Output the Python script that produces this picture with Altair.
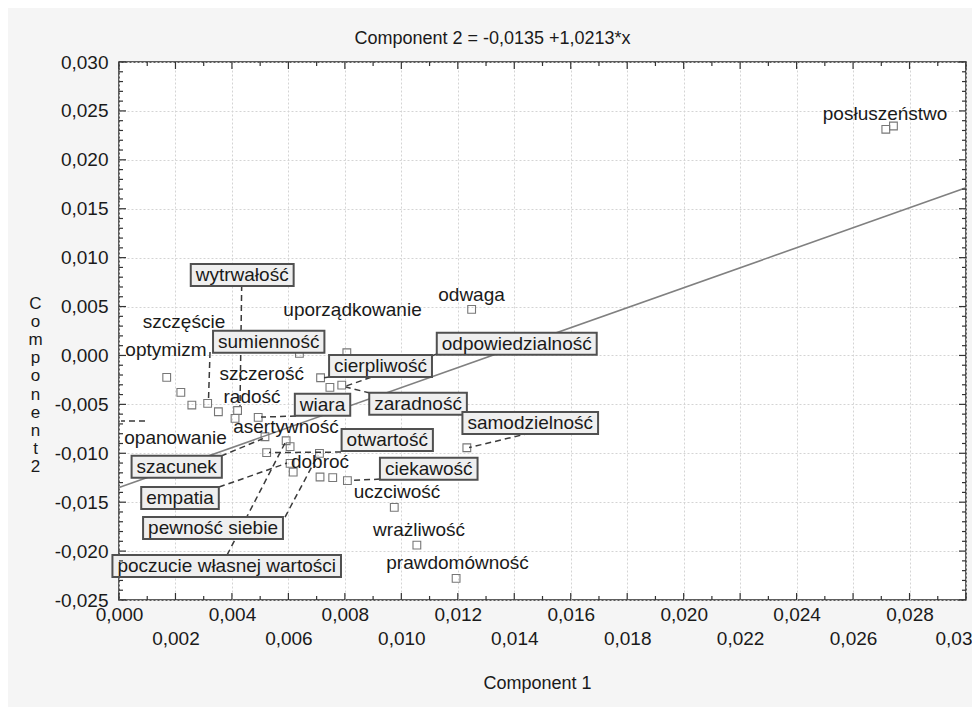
import altair as alt
import pandas as pd

# ---------------- data ----------------
pt_x = [0.02743, 0.02716, 0.01249, 0.00807, 0.00639, 0.00714, 0.00747, 0.00789,
        0.00169, 0.00219, 0.00258, 0.00314, 0.00352, 0.00420, 0.00411, 0.00493,
        0.00517, 0.00592, 0.00606, 0.00523, 0.00710, 0.00606, 0.00617, 0.00712,
        0.00757, 0.00809, 0.01232, 0.00975, 0.01055, 0.01194]
pt_y = [0.02346, 0.02312, 0.00471, 0.00028, 0.00022, -0.00228, -0.00326, -0.00303,
        -0.00224, -0.00377, -0.00507, -0.00490, -0.00576, -0.00563, -0.00643, -0.00633,
        -0.00831, -0.00872, -0.00932, -0.00993, -0.01001, -0.01103, -0.01192, -0.01243,
        -0.01249, -0.01279, -0.00944, -0.01553, -0.01939, -0.02279]

plain_text = ["posłuszeństwo", "odwaga", "uporządkowanie", "szczęście", "optymizm",
              "szczerość", "radość", "asertywność", "opanowanie", "dobroć",
              "uczciwość", "wrażliwość", "prawdomówność"]
plain_x = [0.027134, 0.012487, 0.008271, 0.002303, 0.001665, 0.005055, 0.004711,
           0.005916, 0.002001, 0.007120, 0.009848, 0.010627, 0.011991]
plain_y = [0.024683, 0.006176, 0.004642, 0.003446, 0.000552, -0.001902, -0.004223,
           -0.007291, -0.008477, -0.010869, -0.013937, -0.017853, -0.021258]

box_text = ["wytrwałość", "sumienność", "cierpliwość", "odpowiedzialność", "wiara",
            "zaradność", "samodzielność", "otwartość", "ciekawość", "szacunek",
            "empatia", "pewność siebie", "poczucie własnej wartości"]
box_x = [0.004364, 0.005303, 0.009263, 0.014088, 0.007209, 0.010592, 0.014566,
         0.009501, 0.010971, 0.002044, 0.002161, 0.003330, 0.003815]
box_y = [0.008221, 0.001401, -0.001084, 0.001196, -0.005041, -0.004939, -0.006912,
         -0.008651, -0.011595, -0.011380, -0.014561, -0.017628, -0.021514]

lead_x1 = [0.004346, 0.003224, 0.007439, 0.011265, 0.008891, 0.006270, 0.014559,
           0.007864, 0.009246, 0.003613, 0.003542, 0.005880, 0.003826, 0.000921]
lead_y1 = [0.007198, 0.000348, -0.002209, 0.000143, -0.003845, -0.006197, -0.007935,
           -0.009878, -0.012638, -0.010287, -0.013456, -0.016524, -0.020409, -0.006708]
lead_x2 = [0.004286, 0.003170, 0.007262, 0.008041, 0.008041, 0.005030, 0.012398,
           0.005313, 0.008183, 0.005101, 0.005951, 0.007049, 0.005880, 0.000071]
lead_y2 = [-0.005174, -0.004561, -0.002280, -0.003129, -0.003231, -0.006300, -0.009418,
           -0.009929, -0.012791, -0.008497, -0.011002, -0.010184, -0.008957, -0.006708]

reg_intercept = -0.0135
reg_slope = 1.0213

x_ticks = [round(0.002 * i, 3) for i in range(16)]
y_ticks = [round(-0.025 + 0.005 * i, 3) for i in range(12)]
x_minor = [round(0.001 * i, 3) for i in range(31)]
y_minor = [round(-0.025 + 0.001 * i, 3) for i in range(56)]

# ---------------- layout ----------------
W, H = 847, 538
XMIN, XMAX = 0.0, 0.030
YMIN, YMAX = -0.025, 0.030
PXX = W / (XMAX - XMIN)
PXY = H / (YMAX - YMIN)
FONT = "Liberation Sans"
LABEL_FS = 19
TICK_FS = 19

CHAR_W = {'a': 556, 'b': 556, 'c': 500, 'd': 556, 'e': 556, 'f': 278, 'g': 556, 'h': 556,
          'i': 222, 'j': 222, 'k': 500, 'l': 222, 'ł': 222, 'm': 833, 'n': 556, 'o': 556,
          'p': 556, 'q': 556, 'r': 333, 's': 500, 't': 278, 'u': 556, 'v': 500, 'w': 722,
          'x': 500, 'y': 500, 'z': 500, 'ą': 556, 'ę': 556, 'ć': 500, 'ś': 500, 'ż': 500,
          'ź': 500, 'ń': 556, 'ó': 556, ' ': 278}


def text_px(s):
    return sum(CHAR_W.get(c, 556) for c in s) * LABEL_FS / 1000.0


pad_px, half_h_px = 5, 11
boxes = pd.DataFrame({
    "text": box_text,
    "x": [cx - (text_px(t) / 2 + pad_px) / PXX for t, cx in zip(box_text, box_x)],
    "x2": [cx + (text_px(t) / 2 + pad_px) / PXX for t, cx in zip(box_text, box_x)],
    "y": [cy + half_h_px / PXY for cy in box_y],
    "y2": [cy - half_h_px / PXY for cy in box_y],
})
box_labels = pd.DataFrame({"text": box_text, "x": box_x, "y": box_y})
plain = pd.DataFrame({"text": plain_text, "x": plain_x, "y": plain_y})
points = pd.DataFrame({"x": pt_x, "y": pt_y})
leaders = pd.DataFrame({"x": lead_x1, "y": lead_y1, "x2": lead_x2, "y2": lead_y2})
reg = pd.DataFrame({"x": [XMIN], "y": [reg_intercept + reg_slope * XMIN],
                    "x2": [XMAX], "y2": [reg_intercept + reg_slope * XMAX]})

# inward frame ticks
rows = []
for v in x_minor:
    L = (7 if v in x_ticks else 4)
    rows.append({"x": v, "x2": v, "y": YMIN, "y2": YMIN + L / PXY})
    rows.append({"x": v, "x2": v, "y": YMAX, "y2": YMAX - L / PXY})
for v in y_minor:
    L = (7 if v in y_ticks else 4)
    rows.append({"x": XMIN, "x2": XMIN + L / PXX, "y": v, "y2": v})
    rows.append({"x": XMAX, "x2": XMAX - L / PXX, "y": v, "y2": v})
ticks = pd.DataFrame(rows)

# ---------------- axes / scales ----------------
xs = alt.Scale(domain=[XMIN, XMAX], nice=False, zero=False)
ys = alt.Scale(domain=[YMIN, YMAX], nice=False, zero=False)

x_axis = alt.Axis(
    values=x_ticks, title="Component 1", titleFont=FONT, titleFontSize=18,
    titleFontWeight="normal", titleColor="#1a1a1a", titlePadding=26, titleX=418,
    labelFont=FONT, labelFontSize=TICK_FS, labelColor="#1a1a1a",
    labelExpr="datum.value > 0.0295 ? '0,03' : replace(format(datum.value, '.3f'), '.', ',')",
    labelPadding={"condition": {"test": "round(datum.value*1000) % 4 == 2", "value": 29},
                  "value": 5},
    labelAlign={"condition": {"test": "datum.value > 0.0295", "value": "right"}, "value": "center"},
    labelOffset={"condition": {"test": "datum.value > 0.0295", "value": 6}, "value": 0},
    labelOverlap=False, labelFlush=False, labelBound=False,
    ticks=False, domain=False, grid=True, gridColor="#d4d4d4", gridDash=[2, 2], gridWidth=1,
)
y_axis = alt.Axis(
    values=y_ticks, title=list("Component2"), titleAngle=0, titleAlign="center",
    titleBaseline="middle", titleX=-84, titleY=241, titleLineHeight=18.2,
    titleFont=FONT, titleFontSize=17, titleFontWeight="normal", titleColor="#1a1a1a",
    labelFont=FONT, labelFontSize=TICK_FS, labelColor="#1a1a1a", labelPadding=11,
    labelExpr="(datum.value < -0.0001 ? '-' : '') + replace(format(abs(datum.value), '.3f'), '.', ',')",
    labelOverlap=False, labelFlush=False, labelBound=False,
    ticks=False, domain=False, grid=True, gridColor="#d4d4d4", gridDash=[2, 2], gridWidth=1,
)

X = alt.X("x:Q", scale=xs, axis=x_axis)
Y = alt.Y("y:Q", scale=ys, axis=y_axis)

reg_layer = alt.Chart(reg).mark_rule(color="#808080", strokeWidth=1.6).encode(
    x=X, y=Y, x2="x2:Q", y2="y2:Q")
tick_layer = alt.Chart(ticks).mark_rule(color="#333333", strokeWidth=1.2).encode(
    x=X, y=Y, x2="x2:Q", y2="y2:Q")
pt_layer = alt.Chart(points).mark_point(shape="square", filled=False, size=60,
                                         color="#777777", strokeWidth=1.1, opacity=1).encode(x=X, y=Y)
lead_layer = alt.Chart(leaders).mark_rule(color="#3a3a3a", strokeWidth=1.5,
                                           strokeDash=[6, 4]).encode(x=X, y=Y, x2="x2:Q", y2="y2:Q")
box_layer = alt.Chart(boxes).mark_rect(fill="#efefef", stroke="#505050", strokeWidth=2).encode(
    x=X, y=Y, x2="x2:Q", y2="y2:Q")
plain_layer = alt.Chart(plain).mark_text(font=FONT, fontSize=LABEL_FS, color="#1a1a1a",
                                         align="center", baseline="middle").encode(
    x=X, y=Y, text="text:N")
boxlab_layer = alt.Chart(box_labels).mark_text(font=FONT, fontSize=LABEL_FS, color="#1a1a1a",
                                               align="center", baseline="middle").encode(
    x=X, y=Y, text="text:N")

chart = alt.layer(
    reg_layer, pt_layer, lead_layer, box_layer, plain_layer, boxlab_layer, tick_layer
).properties(
    width=W, height=H,
    title=alt.TitleParams("Component 2 = -0,0135 +1,0213*x", font=FONT, fontSize=18,
                          fontWeight="normal", color="#1a1a1a", anchor="middle",
                          offset=5, dx=-50),
    padding={"left": 111, "top": 54, "right": 6, "bottom": 107},
    autosize=alt.AutoSizeParams(type="none"),
).configure(
    background="#f5f5f5",
).configure_view(
    fill="white", stroke="#2a2a2a", strokeWidth=1.5,
)

chart.save("out.html", embed_options={"renderer": "svg", "actions": False})
